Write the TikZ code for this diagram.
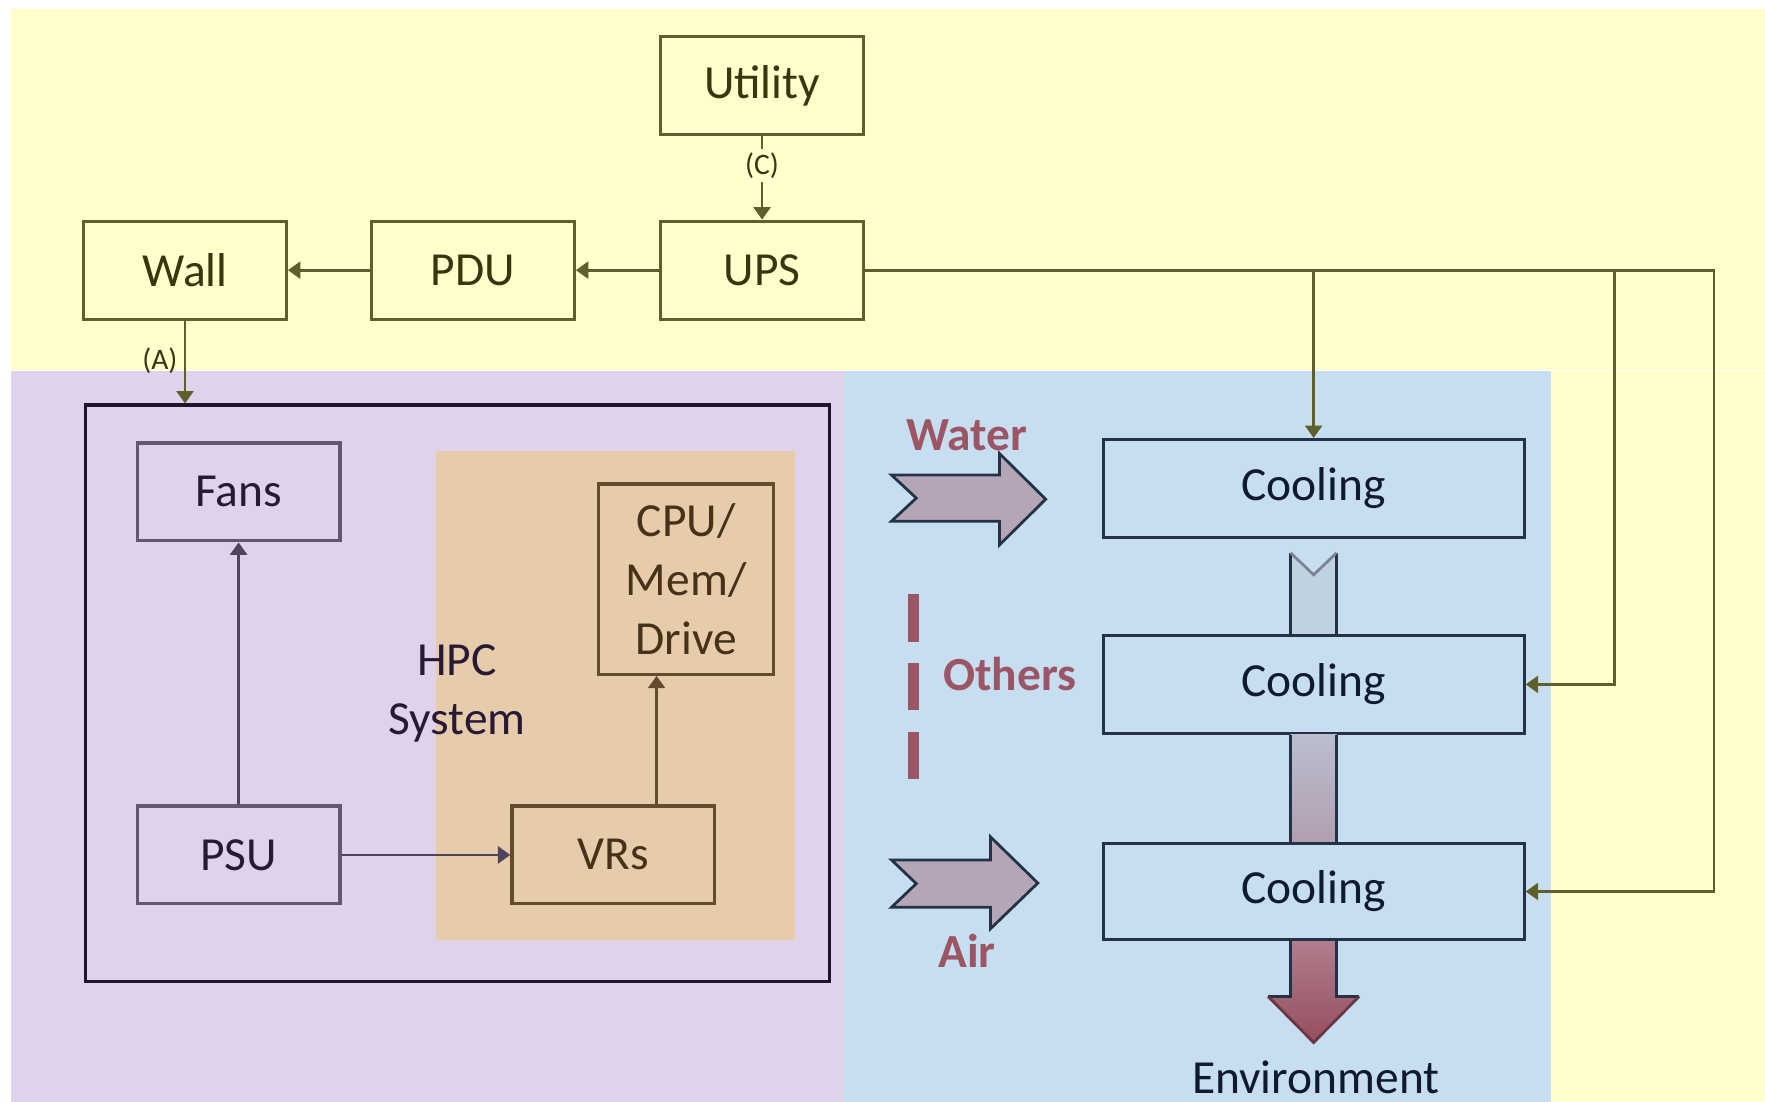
\documentclass[tikz,border=0pt]{standalone}
\usepackage{fontspec}
\setmainfont{Carlito}
\usepackage{xcolor}
\usepackage{tikz}
\usetikzlibrary{arrows.meta, positioning}
\definecolor{regionSupply}{RGB}{255,255,204}
\definecolor{regionHPC}{RGB}{224,210,234}
\definecolor{regionCool}{RGB}{198,222,240}
\definecolor{regionBoard}{RGB}{230,204,170}
\definecolor{lineSupply}{RGB}{95,95,45}
\definecolor{textSupply}{RGB}{55,55,15}
\definecolor{lineHPC}{RGB}{100,85,115}
\definecolor{textHPC}{RGB}{40,25,55}
\definecolor{lineSystem}{RGB}{35,20,45}
\definecolor{lineBoard}{RGB}{100,75,45}
\definecolor{textBoard}{RGB}{70,50,25}
\definecolor{lineCool}{RGB}{35,50,70}
\definecolor{textCool}{RGB}{15,25,50}
\definecolor{mediumRed}{RGB}{155,85,100}
\definecolor{mediumFill}{RGB}{180,166,182}
\definecolor{stripLight}{RGB}{192,210,224}
\definecolor{stripMid}{RGB}{186,190,206}
\definecolor{stripMauve}{RGB}{178,158,176}
\definecolor{envTop}{RGB}{176,125,140}
\definecolor{envBottom}{RGB}{150,78,94}
\tikzset{
  baseNode/.style={
    draw,
    line width=0.8pt,
    align=center,
    inner sep=2pt,
    minimum width=18mm,
    minimum height=8.7mm,
    font=\fontsize{12}{14.8}\selectfont
  },
  supplyNode/.style={baseNode, draw=lineSupply, fill=regionSupply, text=textSupply},
  hpcNode/.style={baseNode, draw=lineHPC, fill=regionHPC, text=textHPC},
  boardNode/.style={baseNode, draw=lineBoard, fill=regionBoard, text=textBoard},
  coolNode/.style={baseNode, draw=lineCool, fill=regionCool, text=textCool, minimum width=37.4mm},
  supplyFlow/.style={-{Triangle[length=1.1mm,width=1.5mm]}, line width=0.7pt, draw=lineSupply},
  hpcFlow/.style={-{Triangle[length=1.1mm,width=1.5mm]}, line width=0.7pt, draw=lineHPC!80!black},
  boardFlow/.style={-{Triangle[length=1.1mm,width=1.5mm]}, line width=0.7pt, draw=lineBoard},
  tagLabel/.style={inner sep=1pt, font=\fontsize{7.5}{9}\selectfont, text=textSupply},
  mediumLabel/.style={font=\fontsize{12}{14}\selectfont\bfseries, text=mediumRed},
  mediumArrow/.style={draw=lineCool, line width=0.7pt, fill=mediumFill, line join=miter},
  stripEdge/.style={draw=lineCool, line width=0.8pt}
}
\begin{document}
\begin{tikzpicture}[node distance=7.4mm]
  \useasboundingbox (0,0) rectangle (15.68,-9.79);
  \fill[regionSupply] (0.10,-0.08) rectangle (15.68,-3.29);
  \fill[regionHPC] (0.10,-3.30) rectangle (7.50,-9.79);
  \fill[regionCool] (7.50,-3.30) rectangle (13.78,-9.79);
  \fill[regionSupply] (13.78,-3.30) rectangle (15.68,-9.79);
  \fill[regionBoard] (3.87,-4.01) rectangle (7.06,-8.35);

  \node[supplyNode] (ups) at (6.77,-2.40) {UPS};
  \node[supplyNode, above=of ups] (utility) {Utility};
  \node[supplyNode, left=of ups] (pdu) {PDU};
  \node[supplyNode, left=7.3mm of pdu] (wall) {Wall};

  \node[draw=lineSystem, line width=0.9pt, minimum width=66.1mm, minimum height=51.2mm, inner sep=0pt] (system) at (4.065,-6.16) {};
  \node[hpcNode] (fans) at (2.12,-4.37) {Fans};
  \node[hpcNode] (psu) at (2.12,-7.595) {PSU};
  \node[boardNode, right=15mm of psu] (vrs) {VRs};
  \node[boardNode, minimum width=15.5mm, minimum height=16.9mm] (cpu) at (6.095,-5.145) {CPU/\\Mem/\\Drive};
  \node[align=center, font=\fontsize{12}{14.8}\selectfont, text=textHPC] (hpc) at (4.06,-6.16) {HPC\\System};

  \node[coolNode] (cool1) at (11.67,-4.34) {Cooling};
  \node[coolNode] (cool2) at (11.67,-6.08) {Cooling};
  \node[coolNode, minimum height=8.55mm] (cool3) at (11.67,-7.92) {Cooling};
  \node[font=\fontsize{12}{14}\selectfont, text=textCool] (env) at (11.69,-9.575) {Environment};

  \node[mediumLabel] (water) at (8.59,-3.865) {Water};
  \node[mediumLabel] (others) at (8.97,-5.99) {Others};
  \node[mediumLabel] (air) at (8.59,-8.45) {Air};

  \draw[supplyFlow] (utility) -- node[pos=0.35, tagLabel, fill=regionSupply]{(C)} (ups);
  \draw[supplyFlow] (ups) -- (pdu);
  \draw[supplyFlow] (pdu) -- (wall);
  \draw[supplyFlow] (wall) -- node[pos=0.48, left=0.2mm, tagLabel]{(A)} (wall.south |- system.north);

  \draw[hpcFlow] (psu) -- (fans);
  \draw[hpcFlow] (psu) -- (vrs);
  \draw[boardFlow] ([xshift=3.85mm]vrs.north) -- ([xshift=3.85mm]vrs.north |- cpu.south);

  \coordinate (tapB) at (14.34,-2.40);
  \coordinate (tapC) at (15.226,-2.40);
  \draw[supplyFlow] (ups.east) -| (cool1.north);
  \draw[supplyFlow] (ups.east) -- (tapB) |- (cool2.east);
  \draw[supplyFlow] (ups.east) -- (tapC) |- (cool3.east);

  \draw[mediumArrow] (7.92,-4.22) -- (8.88,-4.22) -- (8.88,-4.03) -- (9.29,-4.435) -- (8.88,-4.84) -- (8.88,-4.63) -- (7.92,-4.63) -- (8.14,-4.425) -- cycle;
  \draw[mediumArrow] (7.92,-7.64) -- (8.80,-7.64) -- (8.80,-7.435) -- (9.22,-7.845) -- (8.80,-8.25) -- (8.80,-8.06) -- (7.92,-8.06) -- (8.14,-7.85) -- cycle;
  \draw[mediumRed, line width=1mm, dash pattern=on 4.2mm off 1.9mm] (8.114,-5.28) -- (8.114,-6.92);

  \fill[stripLight] ([xshift=-2.05mm]cool2.north) -- ++(0,7.2mm) -- ++(2.05mm,-1.95mm) -- ++(2.05mm,1.95mm) -- ++(0,-7.2mm) -- cycle;
  \draw[stripEdge] ([xshift=-2.05mm]cool2.north) -- ++(0,7.2mm);
  \draw[stripEdge] ([xshift=2.05mm]cool2.north) -- ++(0,7.2mm);
  \draw[draw=lineCool!60, line width=0.7pt] ([xshift=-2.05mm,yshift=7.2mm]cool2.north) -- ++(2.05mm,-1.95mm) -- ++(2.05mm,1.95mm);

  \shade[top color=stripMid, bottom color=stripMauve] ([xshift=-2.05mm]cool3.north) rectangle ([xshift=2.05mm]cool2.south);
  \draw[stripEdge] ([xshift=-2.05mm]cool3.north) -- ([xshift=-2.05mm]cool2.south);
  \draw[stripEdge] ([xshift=2.05mm]cool3.north) -- ([xshift=2.05mm]cool2.south);

  \shade[top color=envTop, bottom color=envBottom] ([xshift=-2.05mm]cool3.south) -- ++(0,-4.9mm) -- ++(-2mm,0) -- ++(4.05mm,-4.1mm) -- ++(4.05mm,4.1mm) -- ++(-2mm,0) -- ++(0,4.9mm) -- cycle;
  \draw[stripEdge] ([xshift=-2.05mm]cool3.south) -- ++(0,-4.9mm) -- ++(-2mm,0);
  \draw[stripEdge] ([xshift=2.05mm]cool3.south) -- ++(0,-4.9mm) -- ++(2mm,0);
  \draw[draw=envBottom!70!black, line width=0.7pt] ([xshift=-4.05mm,yshift=-4.9mm]cool3.south) -- ++(4.05mm,-4.1mm) -- ++(4.05mm,4.1mm);
\end{tikzpicture}
\end{document}
